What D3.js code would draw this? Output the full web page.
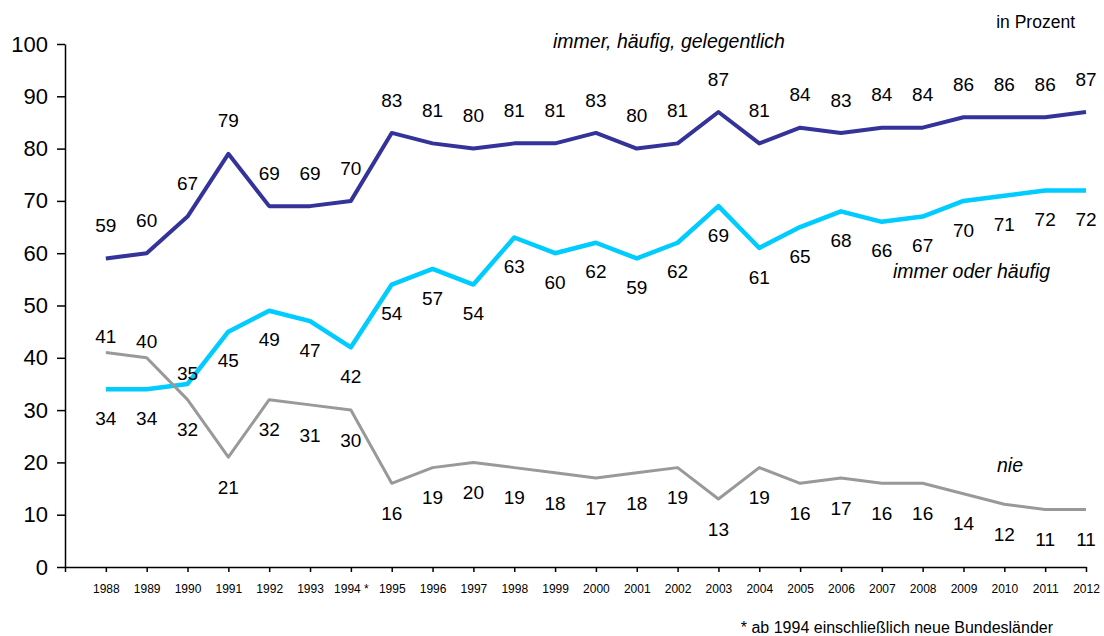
<!DOCTYPE html>
<html>
<head>
<meta charset="utf-8">
<script src="https://cdn.jsdelivr.net/npm/d3@7"></script>
<style>
  body { margin: 0; background: #fff; }
  svg { font-family: "Liberation Sans", Arial, sans-serif; }
</style>
</head>
<body>
<div id="chart"></div>
<script>
// Data
const years = d3.range(1988, 2013);
const yearLabels = years.map((y) => (y === 1994 ? "1994 *" : String(y)));
const yTicks = [0, 10, 20, 30, 40, 50, 60, 70, 80, 90, 100];

const immerHaeufigGelegentlich = [59, 60, 67, 79, 69, 69, 70, 83, 81, 80, 81, 81, 83, 80, 81, 87, 81, 84, 83, 84, 84, 86, 86, 86, 87];
const immerOderHaeufig = [34, 34, 35, 45, 49, 47, 42, 54, 57, 54, 63, 60, 62, 59, 62, 69, 61, 65, 68, 66, 67, 70, 71, 72, 72];
const nie = [41, 40, 32, 21, 32, 31, 30, 16, 19, 20, 19, 18, 17, 18, 19, 13, 19, 16, 17, 16, 16, 14, 12, 11, 11];

const series = [
  { name: "immer, häufig, gelegentlich", values: immerHaeufigGelegentlich, color: "#333399", width: 4, labelDy: -33, above: [] },
  { name: "immer oder häufig", values: immerOderHaeufig, color: "#00ccff", width: 4.5, labelDy: 29, above: [1990] },
  { name: "nie", values: nie, color: "#999999", width: 3, labelDy: 30, above: [1988, 1989] },
];

// Dimensions
const width = 1104;
const height = 636;

const svg = d3
  .select("#chart")
  .append("svg")
  .attr("width", width)
  .attr("height", height);

// Scales
const xScale = d3.scaleLinear().domain([1987, 2012]).range([65, 1086]);
const yScale = d3.scaleLinear().domain([0, 100]).range([567, 44]);

// Axes
const xAxis = d3
  .axisBottom(xScale)
  .tickValues(d3.range(1987, 2013))
  .tickFormat((d) => (d === 1987 ? "" : yearLabels[years.indexOf(d)]))
  .tickSize(5)
  .tickPadding(12)
  .tickSizeOuter(0);

const yAxis = d3
  .axisLeft(yScale)
  .tickValues(yTicks)
  .tickSize(8)
  .tickPadding(9)
  .tickSizeOuter(0);

const xAxisG = svg.append("g").attr("transform", `translate(0, ${yScale(0)})`).call(xAxis);
xAxisG.selectAll("text").attr("font-size", 12).attr("fill", "#000");
xAxisG.selectAll("line, path").attr("stroke", "#000").attr("stroke-width", 1.5);

const yAxisG = svg.append("g").attr("transform", `translate(${xScale(1987)}, 0)`).call(yAxis);
yAxisG.selectAll("text").attr("font-size", 22).attr("fill", "#000");
yAxisG.selectAll("line, path").attr("stroke", "#000").attr("stroke-width", 1.5);

// Lines
const lineGenerator = d3
  .line()
  .x((d, i) => xScale(years[i]))
  .y((d) => yScale(d));

series.forEach((s) => {
  svg
    .append("path")
    .datum(s.values)
    .attr("d", lineGenerator)
    .attr("fill", "none")
    .attr("stroke", s.color)
    .attr("stroke-width", s.width)
    .attr("stroke-linejoin", "round");
});

// Data labels
series.forEach((s) => {
  svg
    .append("g")
    .selectAll("text")
    .data(s.values)
    .join("text")
    .attr("x", (d, i) => xScale(years[i]))
    .attr("y", (d, i) => {
      let dy = s.labelDy;
      if (s.above.includes(years[i])) dy = s.name === "nie" ? -16 : -11;
      return yScale(d) + dy;
    })
    .attr("dy", "0.35em")
    .attr("text-anchor", "middle")
    .attr("font-size", 19)
    .attr("fill", "#000")
    .text((d) => d);
});

// Series names
const seriesNames = [
  { text: "immer, häufig, gelegentlich", x: 553, y: 48 },
  { text: "immer oder häufig", x: 893, y: 278 },
  { text: "nie", x: 997, y: 472 },
];
svg
  .append("g")
  .selectAll("text")
  .data(seriesNames)
  .join("text")
  .attr("x", (d) => d.x)
  .attr("y", (d) => d.y)
  .attr("font-size", 19.5)
  .attr("font-style", "italic")
  .attr("fill", "#000")
  .text((d) => d.text);

svg
  .append("text")
  .attr("x", 1075)
  .attr("y", 28)
  .attr("text-anchor", "end")
  .attr("font-size", 17.5)
  .text("in Prozent");

svg
  .append("text")
  .attr("x", 1053)
  .attr("y", 633)
  .attr("text-anchor", "end")
  .attr("font-size", 16)
  .text("* ab 1994 einschließlich neue Bundesländer");
</script>
</body>
</html>
